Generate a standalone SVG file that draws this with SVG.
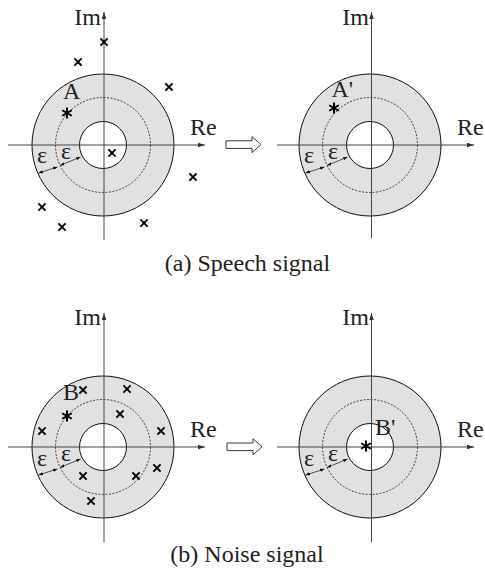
<svg xmlns="http://www.w3.org/2000/svg" width="485" height="583" viewBox="0 0 485 583">
<style>
.outer{fill:#e1e1e1;stroke:#111;stroke-width:1}
.inner{fill:#fff;stroke:#111;stroke-width:1}
.dash{fill:none;stroke:#111;stroke-width:0.8;stroke-dasharray:2 1.5}
.ax{stroke:#444;stroke-width:1;fill:none}
.axa{stroke:#444;stroke-width:1;fill:none;marker-end:url(#axhead)}
.eps{stroke:#111;stroke-width:0.7;fill:none;marker-start:url(#eh);marker-end:url(#eh)}
.xm{stroke:#000;stroke-width:2;fill:none}
.ast{stroke:#000;stroke-width:2;fill:none}
text{font-family:"Liberation Serif","Times New Roman",serif;font-size:24px;fill:#222}
.cap{font-size:24px;text-anchor:middle}
.hollow{fill:#fff;stroke:#222;stroke-width:0.9}
</style>
<defs>
<marker id="axhead" markerUnits="userSpaceOnUse" markerWidth="7" markerHeight="5" refX="7" refY="2.25" orient="auto"><path d="M0,0 L7,2.25 L0,4.5 z" fill="#333"/></marker>
<marker id="eh" markerUnits="userSpaceOnUse" markerWidth="4.5" markerHeight="3.4" refX="4.5" refY="1.7" orient="auto-start-reverse"><path d="M0,0 L4.5,1.7 L0,3.4 z" fill="#111"/></marker>
<path id="x" class="xm" d="M-3.6,-3.6 L3.6,3.6 M-3.6,3.6 L3.6,-3.6"/>
<path id="st" class="ast" d="M0,-5.5 V5.5 M-4.8,-2.75 L4.8,2.75 M-4.8,2.75 L4.8,-2.75"/>
<g id="disk">
<circle class="outer" r="71"/>
<circle class="dash" r="47.5"/>
<circle class="inner" r="23.5"/>
</g>
<g id="epsarrows">
<line class="eps" x1="-64.5" y1="28" x2="-45.5" y2="22"/>
<line class="eps" x1="-43" y1="20.5" x2="-22.5" y2="12"/>
</g>
</defs>

<g id="panel-a-left" transform="translate(103,145)">
<use href="#disk"/>
<line class="axa" x1="1" y1="95" x2="1" y2="-133"/>
<line class="axa" x1="-95" y1="0" x2="102" y2="0"/>
<use href="#epsarrows"/>
<text x="-66" y="18">ε</text>
<text x="-42" y="14">ε</text>
<text x="-2" y="-120" text-anchor="end">Im</text>
<text x="87" y="-10">Re</text>
<text x="-40" y="-46">A</text>
<use href="#st" x="-36" y="-32"/>
<use href="#x" x="1" y="-103"/>
<use href="#x" x="-25" y="-83"/>
<use href="#x" x="66" y="-58"/>
<use href="#x" x="9" y="8"/>
<use href="#x" x="90" y="32"/>
<use href="#x" x="-61" y="62"/>
<use href="#x" x="-41" y="82"/>
<use href="#x" x="41" y="78"/>
</g>

<g id="arrow-a"><path class="hollow" d="M226,140.8 H252 V136.6 L261,144.6 L252,152.6 V148.4 H226 Z"/></g>

<g id="panel-a-right" transform="translate(370,145)">
<use href="#disk"/>
<line class="axa" x1="1.5" y1="93" x2="1.5" y2="-133"/>
<line class="axa" x1="-93" y1="0" x2="104" y2="0"/>
<use href="#epsarrows"/>
<text x="-66" y="18">ε</text>
<text x="-42" y="14">ε</text>
<text x="-1" y="-120" text-anchor="end">Im</text>
<text x="87" y="-10">Re</text>
<text x="-38.5" y="-48">A'</text>
<use href="#st" x="-36" y="-37"/>
</g>

<text id="caption-a" class="cap" x="247.5" y="271">(a) Speech signal</text>

<g id="panel-b-left" transform="translate(103,447)">
<use href="#disk"/>
<line class="axa" x1="1" y1="95" x2="1" y2="-134"/>
<line class="axa" x1="-95" y1="0" x2="102" y2="0"/>
<use href="#epsarrows"/>
<text x="-66" y="19">ε</text>
<text x="-42" y="14">ε</text>
<text x="-2" y="-122" text-anchor="end">Im</text>
<text x="87" y="-10">Re</text>
<text x="-40" y="-47">B</text>
<use href="#st" x="-36" y="-31"/>
<use href="#x" x="-20" y="-57"/>
<use href="#x" x="24" y="-58"/>
<use href="#x" x="17" y="-33"/>
<use href="#x" x="-61" y="-16"/>
<use href="#x" x="58" y="-16"/>
<use href="#x" x="54" y="21"/>
<use href="#x" x="33" y="29"/>
<use href="#x" x="-20" y="29"/>
<use href="#x" x="-12" y="54"/>
</g>

<g id="arrow-b"><path class="hollow" d="M227,443 H253 V438.8 L262,446.8 L253,454.8 V450.6 H227 Z"/></g>

<g id="panel-b-right" transform="translate(370,447)">
<use href="#disk"/>
<line class="axa" x1="1.5" y1="95" x2="1.5" y2="-134"/>
<line class="axa" x1="-93" y1="0" x2="104" y2="0"/>
<use href="#epsarrows"/>
<text x="-66" y="19">ε</text>
<text x="-42" y="14">ε</text>
<text x="-1" y="-122" text-anchor="end">Im</text>
<text x="87" y="-10">Re</text>
<text x="5" y="-12">B'</text>
<use href="#st" x="-4" y="-1"/>
</g>

<text id="caption-b" class="cap" x="247" y="562">(b) Noise signal</text>
</svg>
